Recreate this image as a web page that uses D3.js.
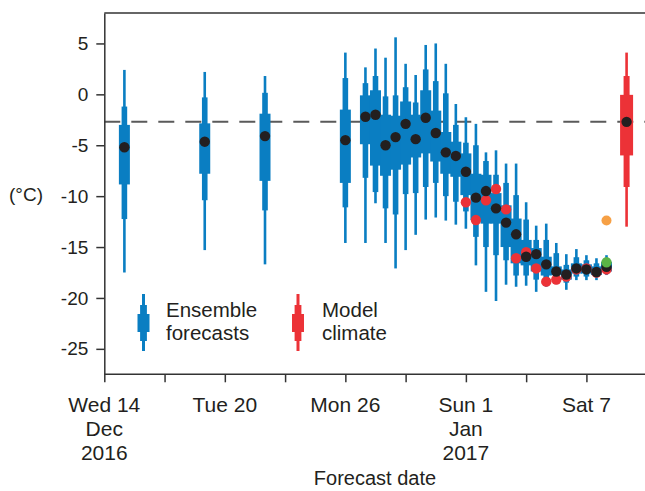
<!DOCTYPE html>
<html>
  <head>
    <meta charset="utf-8">
    <title>Ensemble forecasts</title>
    <style>
      body { margin: 0; background: #fff; }
      svg text { font-family: "Liberation Sans", Arial, sans-serif; fill: #231f20; }
    </style>
  </head>
  <body>
    <div id="chart"></div>
    <script src="https://d3js.org/d3.v7.min.js"></script>
    <script>

      // forecast dates (UTC) and the 7-number summaries of each ensemble
      var fcDates = ["2016-12-15T00","2016-12-19T00","2016-12-22T00","2016-12-26T00",
                     "2016-12-27T00","2016-12-27T12","2016-12-28T00","2016-12-28T12",
                     "2016-12-29T00","2016-12-29T12","2016-12-30T00","2016-12-30T12",
                     "2016-12-31T00","2016-12-31T12","2017-01-01T00","2017-01-01T12",
                     "2017-01-02T00","2017-01-02T12","2017-01-03T00","2017-01-03T12",
                     "2017-01-04T00","2017-01-04T12","2017-01-05T00","2017-01-05T12",
                     "2017-01-06T00","2017-01-06T12","2017-01-07T00","2017-01-07T12",
                     "2017-01-08T00"];
      var fcMax = [2.4, 2.2, 1.8, 4.1, 2.65, 4.5, 3.6, 5.6, 3.0, 1.9, 4.85, 5.0, 3.0, -0.95,
                   -2.25, -2.9, -5.7, -5.5, -6.8, -6.8, -10.6, -12.9, -12.7, -14.6, -15.7,
                   -15.2, -15.8, -16.1, -15.8];
      var fcHi90 = [-1.2, -0.3, 0.15, 1.6, 1.1, 1.8, -0.2, -0.1, 0.7, -0.8, 2.45, 1.3, 0.1, -3.0,
                    -4.75, -5.0, -6.55, -7.9, -8.7, -9.9, -12.3, -14.3, -14.3, -15.6, -16.75,
                    -16.0, -16.3, -16.6, -16.1];
      var fcHi75 = [-3.0, -2.85, -1.9, -1.5, -0.1, 0.4, -2.0, -2.1, -0.7, -2.0, 0.4, -1.6, -3.7, -4.65,
                    -5.8, -7.8, -7.9, -9.7, -10.9, -12.2, -14.3, -15.1, -15.95, -16.9, -17.2,
                    -16.6, -16.7, -16.9, -16.45];
      var fcMedian = [-5.2, -4.65, -4.1, -4.5, -2.2, -2.0, -5.0, -4.2, -2.9, -4.4, -2.3, -3.8, -5.7, -6.05,
                      -7.6, -10.15, -9.5, -11.2, -12.6, -13.75, -15.95, -15.7, -16.7, -17.4, -17.7,
                      -17.1, -17.2, -17.45, -16.95];
      var fcLo25 = [-8.85, -7.8, -8.5, -8.7, -4.9, -7.0, -8.0, -7.4, -6.9, -6.2, -5.8, -6.6, -7.8, -8.1,
                    -9.9, -12.35, -12.7, -12.7, -15.0, -16.6, -16.8, -17.4, -17.8, -17.75, -18.2,
                    -17.6, -17.6, -17.75, -17.4];
      var fcLo10 = [-12.25, -10.4, -11.4, -11.1, -8.2, -9.6, -11.2, -11.8, -9.8, -9.7, -9.1, -8.7, -10.0, -10.55,
                    -11.5, -14.0, -15.0, -15.8, -16.3, -17.8, -17.8, -18.2, -18.2, -18.2, -18.5,
                    -17.9, -17.9, -17.9, -17.6];
      var fcMin = [-17.5, -15.3, -16.7, -14.6, -14.6, -10.7, -14.6, -17.1, -15.3, -13.8, -12.3, -12.1, -12.4, -12.8,
                   -13.2, -16.8, -19.4, -20.3, -18.7, -18.9, -18.8, -19.4, -18.9, -18.65, -19.2,
                   -18.25, -18.25, -18.25, -17.75];

      // observed temperatures (red dots)
      var obsDates = ["2017-01-01T00","2017-01-01T12","2017-01-02T00","2017-01-02T12",
                      "2017-01-03T00","2017-01-03T12","2017-01-04T00","2017-01-04T12",
                      "2017-01-05T00","2017-01-05T12","2017-01-06T00","2017-01-06T12",
                      "2017-01-07T00","2017-01-07T12","2017-01-08T00"];
      var obsTemp = [-10.6, -12.35, -10.4, -9.3, -11.3, -16.1, -15.5, -17.1,
                     -18.4, -18.2, -17.9, -17.2, -17.1, -17.5, -17.2];

      // single points at the end
      var orangeDate = "2017-01-08T00", orangeTemp = -12.4;
      var greenDate  = "2017-01-08T00", greenTemp  = -16.5;

      // model climate box
      var climDate = "2017-01-09T00";
      var climStats = [4.1, 1.8, -0.05, -2.7, -6.0, -9.1, -13.0]; // max,90,75,median,25,10,min

      var yTicks = [5, 0, -5, -10, -15, -20, -25];
      var xTickDates = ["2016-12-14T00","2016-12-17T00","2016-12-20T00","2016-12-23T00","2016-12-26T00",
                        "2016-12-29T00","2017-01-01T00","2017-01-04T00","2017-01-07T00"];
      var xLabelDates = ["2016-12-14T00","2016-12-20T00","2016-12-26T00","2017-01-01T00","2017-01-07T00"];
      var xLabelLines = [["Wed 14","Dec","2016"],["Tue 20"],["Mon 26"],["Sun 1","Jan","2017"],["Sat 7"]];

      var BLUE = "#0a7ec2", RED = "#ec3237", DARK = "#231f20";

      var parse = d3.utcParse("%Y-%m-%dT%H");
      var W = 645, H = 491;

      var svg = d3.select("#chart").append("svg")
                  .attr("width", W).attr("height", H);

      var x = d3.scaleUtc()
                .domain([parse("2016-12-14T00"), parse("2017-01-09T22")])
                .range([104.3, 645]);
      var y = d3.scaleLinear()
                .domain([-27.5, 8])
                .range([374.3, 12.9]);

      var boxes = fcDates.map(function(d, i) {
        return {date: parse(d), max: fcMax[i], hi90: fcHi90[i], hi75: fcHi75[i],
                med: fcMedian[i], lo25: fcLo25[i], lo10: fcLo10[i], min: fcMin[i]};
      });

      // climate median dashed line (behind everything)
      svg.append("line")
          .attr("x1", x.range()[0]).attr("x2", W)
          .attr("y1", y(climStats[3])).attr("y2", y(climStats[3]))
          .attr("stroke", "#5a5a5a").attr("stroke-width", 2)
          .attr("stroke-dasharray", "16,11");

      function drawBox(g, cx, s, col, w) {
        // s = [max, hi90, hi75, med, lo25, lo10, min]
        g.append("rect").attr("x", cx - w[0]/2).attr("width", w[0])
          .attr("y", y(s[0])).attr("height", y(s[6]) - y(s[0])).attr("fill", col);
        g.append("rect").attr("x", cx - w[1]/2).attr("width", w[1])
          .attr("y", y(s[1])).attr("height", y(s[5]) - y(s[1])).attr("fill", col);
        g.append("rect").attr("x", cx - w[2]/2).attr("width", w[2])
          .attr("y", y(s[2])).attr("height", y(s[4]) - y(s[2])).attr("fill", col);
      }

      var gBox = svg.append("g");
      boxes.forEach(function(b) {
        drawBox(gBox, x(b.date), [b.max, b.hi90, b.hi75, b.med, b.lo25, b.lo10, b.min], BLUE, [2.6, 5.6, 11]);
      });
      drawBox(gBox, x(parse(climDate)), climStats, RED, [2.6, 6, 13]);

      // observations
      svg.append("g").selectAll("circle")
          .data(obsDates.map(function(d, i) { return [parse(d), obsTemp[i]]; }))
          .enter().append("circle")
          .attr("cx", function(d) { return x(d[0]); })
          .attr("cy", function(d) { return y(d[1]); })
          .attr("r", 5.2).attr("fill", RED);

      // ensemble medians
      svg.append("g").selectAll("circle")
          .data(boxes)
          .enter().append("circle")
          .attr("cx", function(d) { return x(d.date); })
          .attr("cy", function(d) { return y(d.med); })
          .attr("r", 5.2).attr("fill", DARK);

      svg.append("circle").attr("cx", x(parse(climDate))).attr("cy", y(climStats[3]))
          .attr("r", 5.2).attr("fill", DARK);
      svg.append("circle").attr("cx", x(parse(orangeDate))).attr("cy", y(orangeTemp))
          .attr("r", 5).attr("fill", "#f6a045");
      svg.append("circle").attr("cx", x(parse(greenDate))).attr("cy", y(greenTemp))
          .attr("r", 5.2).attr("fill", "#5bb446");

      // frame top line
      svg.append("line")
          .attr("x1", x.range()[0]).attr("x2", W)
          .attr("y1", y(8)).attr("y2", y(8))
          .attr("stroke", "#333").attr("stroke-width", 1.5);

      // axes
      var yAxis = d3.axisLeft(y).tickValues(yTicks).tickSize(8).tickSizeOuter(0).tickPadding(8)
                    .tickFormat(function(d) { return String(d); });
      var gY = svg.append("g").attr("transform", "translate(" + x.range()[0] + ",0)").call(yAxis);
      gY.selectAll("text").style("font-size", "19px").style("font-family", null).attr("fill", DARK);

      var xAxis = d3.axisBottom(x).tickValues(xTickDates.map(parse)).tickSize(8).tickSizeOuter(0)
                    .tickFormat("");
      var gX = svg.append("g").attr("transform", "translate(0," + y.range()[0] + ")").call(xAxis);

      [gX, gY].forEach(function(g) {
        g.attr("font-family", null);
        g.select(".domain").attr("stroke", "#333").attr("stroke-width", 1.5);
        g.selectAll(".tick line").attr("stroke", "#333").attr("stroke-width", 1.5);
      });
      gX.select(".domain").attr("d", "M" + x.range()[0] + ",0H" + W);

      // multi-line date labels, one text per line
      xLabelDates.forEach(function(d, i) {
        xLabelLines[i].forEach(function(line, j) {
          svg.append("text")
             .attr("text-anchor", "middle")
             .style("font-size", "21px")
             .attr("x", x(parse(d))).attr("y", 411.7 + j * 24)
             .text(line);
        });
      });

      svg.append("text").attr("x", 375).attr("y", 485)
          .attr("text-anchor", "middle").style("font-size", "20px")
          .text("Forecast date");
      svg.append("text").attr("x", 9).attr("y", 201)
          .style("font-size", "19px")
          .text("(°C)");

      // legend
      function legendGlyph(cx, col) {
        var g = svg.append("g");
        g.append("rect").attr("x", cx - 1.5).attr("width", 3).attr("y", 294).attr("height", 57).attr("fill", col);
        g.append("rect").attr("x", cx - 3.4).attr("width", 6.8).attr("y", 305).attr("height", 36).attr("fill", col);
        g.append("rect").attr("x", cx - 6).attr("width", 12).attr("y", 314).attr("height", 18).attr("fill", col);
      }
      legendGlyph(143.5, BLUE);
      legendGlyph(298, RED);

      var legendText = [["Ensemble","forecasts", 166], ["Model","climate", 322]];
      legendText.forEach(function(l) {
        svg.append("text").style("font-size", "20.5px")
           .attr("x", l[2]).attr("y", 317).text(l[0]);
        svg.append("text").style("font-size", "20.5px")
           .attr("x", l[2]).attr("y", 340).text(l[1]);
      });

    </script>
  </body>
</html>
